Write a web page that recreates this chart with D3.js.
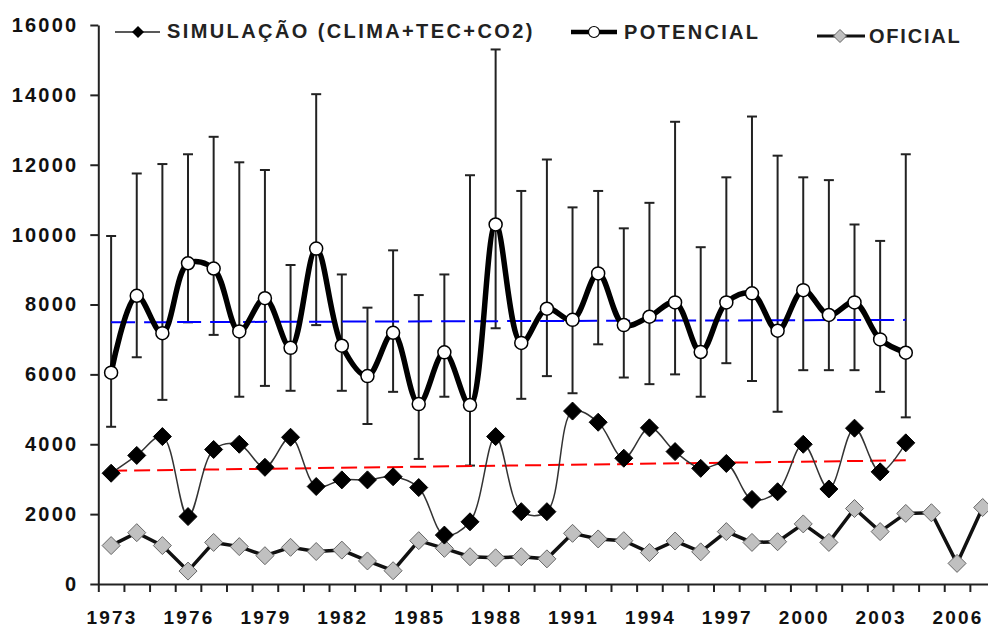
<!DOCTYPE html>
<html>
<head>
<meta charset="utf-8">
<script src="https://cdn.jsdelivr.net/npm/d3@7"></script>
<style>
  body { margin: 0; background: #fff; }
  text { font-family: "Liberation Sans", Arial, sans-serif; font-weight: bold; }
</style>
</head>
<body>
<div id="chart"></div>
<script>
// categories: one per year
var years = [1973,1974,1975,1976,1977,1978,1979,1980,1981,1982,1983,1984,1985,1986,1987,1988,1989,1990,
             1991,1992,1993,1994,1995,1996,1997,1998,1999,2000,2001,2002,2003,2004,2005,2006,2007];
var labelYears = [1973,1976,1979,1982,1985,1988,1991,1994,1997,2000,2003,2006];
var yTicks = [0,2000,4000,6000,8000,10000,12000,14000,16000];

// POTENCIAL (with min / max bars)
var potencial = [6050,8250,7180,9180,9030,7230,8180,6760,9600,6820,5950,7190,5150,6630,5120,10290,
                 6900,7880,7560,8890,7410,7650,8060,6640,8060,8320,7250,8410,7700,8060,7000,6620,null,null,null];
var potMax = [9960,11750,12020,12300,12800,12070,11850,9130,14020,8860,7910,9550,8270,8860,11700,15300,
              11250,12150,10780,11250,10180,10910,13230,9640,11640,13380,12260,11640,11560,10290,9820,12300,null,null,null];
var potMin = [4500,6490,5270,7490,7130,5360,5670,5530,7410,5530,4580,5500,3580,5360,3390,7320,
              5300,5950,5460,6860,5910,5720,6000,5360,6320,5810,4930,6120,6120,6120,5500,4770,null,null,null];

// SIMULAÇÃO (CLIMA+TEC+CO2)
var simulacao = [3170,3680,4220,1930,3850,4000,3340,4200,2790,2980,2980,3070,2760,1400,1780,4220,
                 2070,2070,4950,4630,3600,4470,3790,3310,3450,2420,2640,4000,2720,4460,3210,4040,null,null,null];

// OFICIAL
var oficial = [1100,1470,1100,370,1190,1070,810,1050,930,970,660,380,1240,1020,780,750,
               780,720,1450,1290,1240,900,1230,920,1500,1190,1210,1720,1190,2160,1500,2020,2040,590,2190];

// linear trend lines (start / end values, 1973 -> 2004)
var trendPot = [7490, 7560];
var trendSim = [3240, 3540];

var width = 988, height = 629;

var svg = d3.select("#chart").append("svg")
  .attr("width", width)
  .attr("height", height);

var x = d3.scaleBand().domain(years).range([98.3, 995.5]);
var y = d3.scaleLinear().domain([0, 16000]).range([584, 25]);
var cx = function (yr) { return x(yr) + x.bandwidth() / 2; };

// y axis
var yAxis = svg.append("g")
  .attr("transform", "translate(98.3,0)")
  .call(d3.axisLeft(y).tickValues(yTicks).tickFormat(d3.format("d"))
    .tickSize(8).tickPadding(12).tickSizeOuter(0));
yAxis.select(".domain").attr("stroke", "#222").attr("stroke-width", 2);
yAxis.selectAll(".tick line").attr("stroke", "#222").attr("stroke-width", 2);
yAxis.selectAll(".tick text")
  .attr("font-size", 20).attr("fill", "#111")
  .style("letter-spacing", "2.2px")
  .style("font-family", "'Liberation Sans', Arial, sans-serif").style("font-weight", "bold");

// x axis: ticks on band edges
var xEdge = d3.scaleLinear().domain([0, years.length]).range(x.range());
var xAxis = svg.append("g")
  .attr("transform", "translate(0,584)")
  .call(d3.axisBottom(xEdge).ticks(years.length).tickSize(8).tickFormat("").tickSizeOuter(0));
xAxis.select(".domain").attr("stroke", "#222").attr("stroke-width", 2);
xAxis.selectAll(".tick line").attr("stroke", "#222").attr("stroke-width", 2);

svg.selectAll(".xlab").data(labelYears).enter().append("text")
  .attr("class", "xlab")
  .attr("x", function (d) { return cx(d) + 1; })
  .attr("y", 624)
  .attr("text-anchor", "middle")
  .attr("font-size", 19)
  .attr("fill", "#111")
  .style("letter-spacing", "2.2px")
  .text(function (d) { return d; });

// error bars for POTENCIAL
var bars = years.map(function (yr, i) {
  return { yr: yr, lo: potMin[i], hi: potMax[i] };
}).filter(function (d) { return d.lo != null; });

var eb = svg.append("g").attr("stroke", "#222").attr("stroke-width", 2);
eb.selectAll(".ev").data(bars).enter().append("line")
  .attr("x1", function (d) { return cx(d.yr); })
  .attr("x2", function (d) { return cx(d.yr); })
  .attr("y1", function (d) { return y(d.lo); })
  .attr("y2", function (d) { return y(d.hi); });
eb.selectAll(".ct").data(bars).enter().append("line")
  .attr("x1", function (d) { return cx(d.yr) - 5; })
  .attr("x2", function (d) { return cx(d.yr) + 5; })
  .attr("y1", function (d) { return y(d.hi); })
  .attr("y2", function (d) { return y(d.hi); });
eb.selectAll(".cb").data(bars).enter().append("line")
  .attr("x1", function (d) { return cx(d.yr) - 5; })
  .attr("x2", function (d) { return cx(d.yr) + 5; })
  .attr("y1", function (d) { return y(d.lo); })
  .attr("y2", function (d) { return y(d.lo); });

// trend lines
svg.append("line")
  .attr("x1", cx(1973)).attr("x2", cx(2004))
  .attr("y1", y(trendPot[0])).attr("y2", y(trendPot[1]))
  .attr("stroke", "#0000ff").attr("stroke-width", 2).attr("stroke-dasharray", "24,9");
svg.append("line")
  .attr("x1", cx(1973)).attr("x2", cx(2004))
  .attr("y1", y(trendSim[0])).attr("y2", y(trendSim[1]))
  .attr("stroke", "#ff0000").attr("stroke-width", 2).attr("stroke-dasharray", "16,7");

function pts(vals) {
  return years.map(function (yr, i) { return { yr: yr, v: vals[i] }; })
    .filter(function (d) { return d.v != null; });
}

var smooth = d3.line()
  .x(function (d) { return cx(d.yr); })
  .y(function (d) { return y(d.v); })
  .curve(d3.curveCatmullRom.alpha(0.5));
var straight = d3.line()
  .x(function (d) { return cx(d.yr); })
  .y(function (d) { return y(d.v); });

// lines
svg.append("path").datum(pts(oficial))
  .attr("d", straight).attr("fill", "none").attr("stroke", "#111").attr("stroke-width", 3.5);
svg.append("path").datum(pts(simulacao))
  .attr("d", smooth).attr("fill", "none").attr("stroke", "#333").attr("stroke-width", 1.5);
svg.append("path").datum(pts(potencial))
  .attr("d", smooth).attr("fill", "none").attr("stroke", "#000").attr("stroke-width", 5.5);

var diamond = function (r) { return "M0," + (-r) + "L" + r + ",0L0," + r + "L" + (-r) + ",0Z"; };

// markers
svg.selectAll(".mo").data(pts(oficial)).enter().append("path")
  .attr("transform", function (d) { return "translate(" + cx(d.yr) + "," + y(d.v) + ")"; })
  .attr("d", diamond(9)).attr("fill", "#c0c0c0").attr("stroke", "#666").attr("stroke-width", 1);
svg.selectAll(".ms").data(pts(simulacao)).enter().append("path")
  .attr("transform", function (d) { return "translate(" + cx(d.yr) + "," + y(d.v) + ")"; })
  .attr("d", diamond(9)).attr("fill", "#000").attr("stroke", "#000").attr("stroke-width", 1);
svg.selectAll(".mp").data(pts(potencial)).enter().append("circle")
  .attr("cx", function (d) { return cx(d.yr); })
  .attr("cy", function (d) { return y(d.v); })
  .attr("r", 6.5).attr("fill", "#fff").attr("stroke", "#000").attr("stroke-width", 1.5);

// legend
var lg = svg.append("g");
lg.append("line").attr("x1", 115).attr("x2", 160).attr("y1", 32).attr("y2", 32)
  .attr("stroke", "#222").attr("stroke-width", 1.5);
lg.append("path").attr("transform", "translate(138,32)").attr("d", diamond(6)).attr("fill", "#000");
lg.append("text").attr("x", 167).attr("y", 38).attr("font-size", 20).attr("fill", "#222")
  .style("letter-spacing", "2.4px").text("SIMULAÇÃO (CLIMA+TEC+CO2)");

lg.append("line").attr("x1", 571).attr("x2", 617).attr("y1", 32).attr("y2", 32)
  .attr("stroke", "#000").attr("stroke-width", 4.5);
lg.append("circle").attr("cx", 594).attr("cy", 32).attr("r", 5.5)
  .attr("fill", "#fff").attr("stroke", "#000").attr("stroke-width", 1.2);
lg.append("text").attr("x", 624).attr("y", 39).attr("font-size", 20).attr("fill", "#222")
  .style("letter-spacing", "2.3px").text("POTENCIAL");

lg.append("line").attr("x1", 817).attr("x2", 865).attr("y1", 36).attr("y2", 36)
  .attr("stroke", "#111").attr("stroke-width", 3);
lg.append("path").attr("transform", "translate(840,36)").attr("d", diamond(6.5))
  .attr("fill", "#c0c0c0").attr("stroke", "#666").attr("stroke-width", 1);
lg.append("text").attr("x", 869).attr("y", 43).attr("font-size", 20).attr("fill", "#222")
  .style("letter-spacing", "1.8px").text("OFICIAL");
</script>
</body>
</html>
